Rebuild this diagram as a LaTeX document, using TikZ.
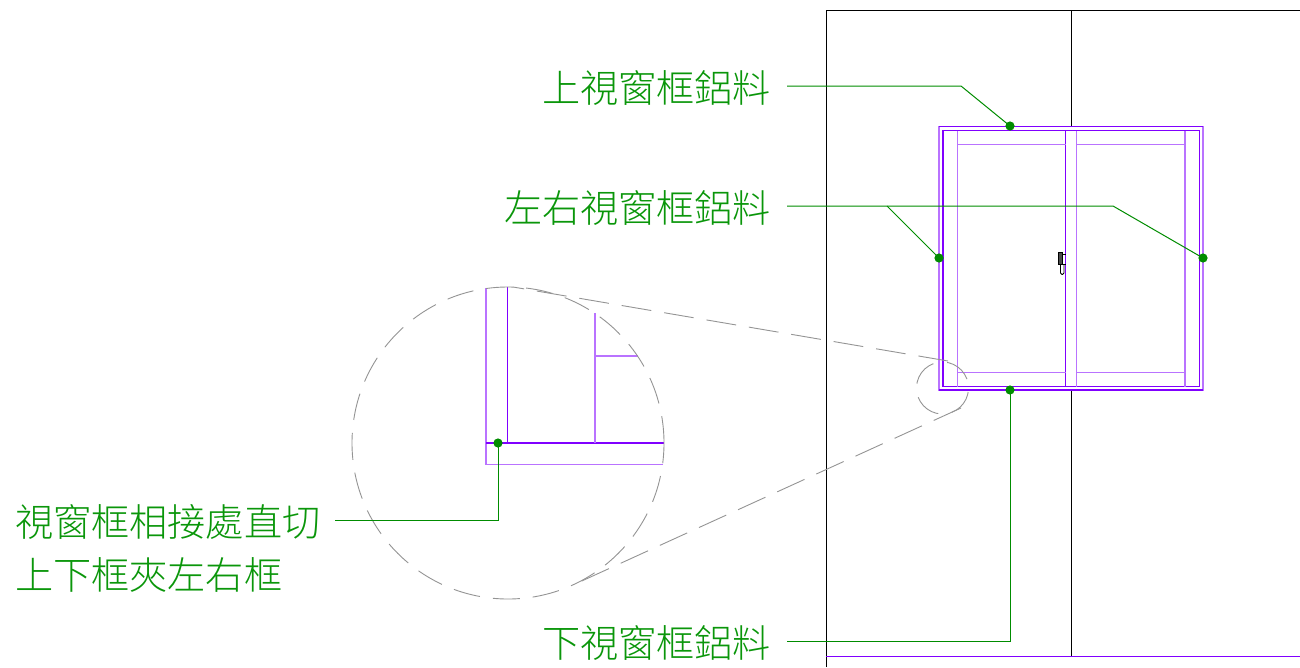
\documentclass[tikz,border=0pt]{standalone}
\usepackage{fontspec}
\setmainfont{Noto Sans CJK TC Light}
\begin{document}
\begin{tikzpicture}[x=1pt,y=-1pt,
  wall/.style={draw=black,line width=1pt},
  frame/.style={draw=frameviolet,line width=1.7pt},
  framethin/.style={draw=frameviolet!55,line width=1.9pt},
  leader/.style={draw=leadgreen,line width=1pt},
  zoomline/.style={draw=black!42,line width=0.9pt,dash pattern=on 30pt off 13pt},
  dotmark/.style={circle,fill=leadgreen,inner sep=0pt,minimum size=9.2pt},
  label/.style={text=textgreen,inner sep=0pt,font=\fontsize{38.15}{38.15}\selectfont}
]
\definecolor{frameviolet}{HTML}{8000FF}
\definecolor{leadgreen}{HTML}{008C00}
\definecolor{textgreen}{HTML}{0A960A}
\useasboundingbox (0,0) rectangle (1300,667);
% walls
\draw[wall] (826,667) -- (826,10) -- (1300,10);
\draw[wall] (1071,10) -- (1071,126);
\draw[wall] (1071,390) -- (1071,656);
\draw[frame] (826,656.5) -- (1300,656.5);
% window frame
\draw[framethin] (939,126.5) rectangle (1203,390);
\draw[frame] (939,126.5) -- (1203,126.5) (939,390) -- (1203,390);
\draw[frame] (943,130.5) rectangle (1199.5,386.5);
\draw[framethin] (957.5,130.5) -- (957.5,386.5);
\draw[frame] (1065.5,130.5) -- (1065.5,386.5);
\draw[framethin] (1076.5,130.5) -- (1076.5,386.5);
\draw[framethin] (1185,130.5) -- (1185,386.5);
\draw[framethin] (957.5,144.5) -- (1065.5,144.5) (1076.5,144.5) -- (1185,144.5);
\draw[framethin] (957.5,372.5) -- (1065.5,372.5) (1076.5,372.5) -- (1185,372.5);
% handle
\fill[black!70] (1058.5,252.5) rectangle (1062.7,264);
\draw[black,line width=0.7pt] (1058.5,252.5) rectangle (1062.7,264);
\draw[black,line width=0.7pt] (1062.7,254) -- (1065.5,254) (1062.7,264) -- (1065.5,264);
\draw[black,line width=0.9pt,rounded corners=1.5pt] (1060.5,264) -- (1060.5,274.5) -- (1064,274.5) -- (1064,264);
% zoom detail
\draw[framethin] (486,288) -- (486,464.5) -- (663,464.5);
\draw[frame] (507.5,286.5) -- (507.5,443);
\draw[frame] (486,443) -- (664,443);
\draw[framethin] (594.7,313) -- (594.7,443);
\draw[framethin] (594.7,356) -- (638,356);
% zoom outline
\node[circle,draw=black!42,line width=0.9pt,dash pattern=on 27pt off 13pt,minimum size=312pt,inner sep=0pt] (bigc) at (508,443) {};
\draw[zoomline,dash pattern=on 27pt off 14pt] (942.5,388) ++(-20:26) arc[start angle=-20,end angle=-380,radius=26];
\coordinate (za) at (513,287);
\coordinate (zb) at (948,361);
\coordinate (zc) at (573,585);
\coordinate (zd) at (961,408);
\draw[zoomline] (zb) -- (za);
\draw[zoomline] (zd) -- (zc);
% labels
\node[label,anchor=east] (t1) at (771.3,88) {上視窗框鋁料};
\node[label,anchor=east] (t2) at (771.3,208) {左右視窗框鋁料};
\node[label,anchor=east] (t3) at (771.3,643) {下視窗框鋁料};
\node[label,anchor=west] (t4) at (15,522) {視窗框相接處直切};
\node[label,anchor=west] (t5) at (15,575) {上下框夾左右框};
% dots
\node[dotmark] (d1) at (1010,126) {};
\node[dotmark] (d2) at (939,258) {};
\node[dotmark] (d3) at (1203,258) {};
\node[dotmark] (d4) at (1010,390) {};
\node[dotmark] (d5) at (498,443) {};
% leader starts and bends
\coordinate (s1) at (787,86);
\coordinate (b1) at (961,86);
\coordinate (s2) at (787,206);
\coordinate (j2) at (887,206);
\coordinate (b2) at (1113,206);
\coordinate (s3) at (787,641);
\coordinate (b3) at (1010,641);
\coordinate (s4) at (335,520);
\coordinate (b4) at (498,520);
\draw[leader] (s1) -- (b1) -- (d1.center);
\draw[leader] (s2) -- (b2) -- (d3.center);
\draw[leader] (j2) -- (d2.center);
\draw[leader] (s3) -- (b3) -- (d4.center);
\draw[leader] (s4) -- (b4) -- (d5.center);
\end{tikzpicture}
\end{document}
